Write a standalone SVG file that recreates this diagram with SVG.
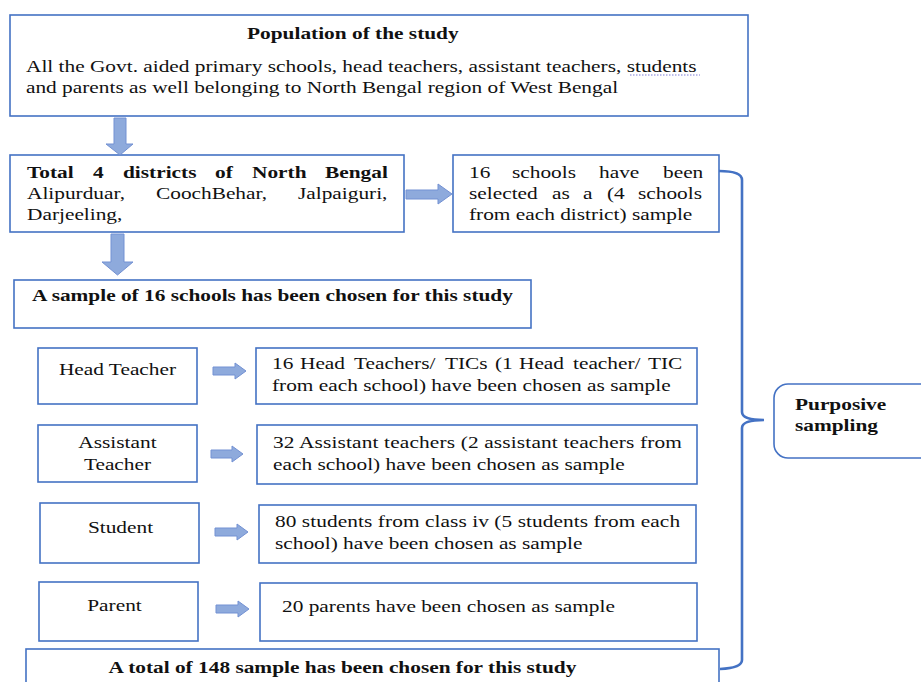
<svg xmlns="http://www.w3.org/2000/svg" width="921" height="682" viewBox="0 0 921 682">
<style>
  .box { fill: #ffffff; stroke: #4472c4; stroke-width: 1.6; }
  .arr { fill: #8eaadc; stroke: #7391d3; stroke-width: 1; }
  .t { font-family: "Liberation Serif", "Times New Roman", serif; font-size: 17px; fill: #111111; transform: scale(1.256, 1); }
  .b { font-weight: bold; }
  .m { text-anchor: middle; }
  .br { fill: none; stroke: #4472c4; stroke-width: 2.6; }
</style>
<rect width="921" height="682" fill="#ffffff"/>

<g id="population">
  <rect class="box" x="10" y="15" width="738" height="101"/>
  <text class="t b" x="196.7" y="39">Population of the study</text>
  <text class="t" x="20.7" y="72">All the Govt. aided primary schools, head teachers, assistant teachers, students</text>
  <text class="t" x="20.7" y="93">and parents as well belonging to North Bengal region of West Bengal</text>
  <line x1="630" y1="75" x2="700" y2="75" stroke="#7b7bd6" stroke-width="1" stroke-dasharray="1.5,1.5"/>
</g>

<g id="districts">
  <rect class="box" x="10" y="155" width="394" height="77"/>
  <text class="t b" y="178"><tspan x="21.5">Total</tspan><tspan x="74.04">4</tspan><tspan x="97.93">districts</tspan><tspan x="171.18">of</tspan><tspan x="200.64">North</tspan><tspan x="258.76">Bengal</tspan></text>
  <text class="t" y="199"><tspan x="21.5">Alipurduar,</tspan><tspan x="124.2">CoochBehar,</tspan><tspan x="237.26">Jalpaiguri,</tspan></text>
  <text class="t" x="21.5" y="220">Darjeeling,</text>
</g>

<g id="schools-selected">
  <rect class="box" x="453" y="155" width="266" height="77"/>
  <text class="t" y="178"><tspan x="373.41">16</tspan><tspan x="407.64">schools</tspan><tspan x="476.91">have</tspan><tspan x="527.87">been</tspan></text>
  <text class="t" y="199"><tspan x="373.41">selected</tspan><tspan x="439.49">as</tspan><tspan x="464.17">a</tspan><tspan x="483.28">(4</tspan><tspan x="507.96">schools</tspan></text>
  <text class="t" x="373.41" y="220">from each district) sample</text>
</g>

<g id="sample-16">
  <rect class="box" x="14" y="280" width="517" height="48"/>
  <text class="t b m" x="216.96" y="301">A sample of 16 schools has been chosen for this study</text>
</g>

<g id="head-teacher">
  <rect class="box" x="38" y="348" width="159" height="56"/>
  <text class="t m" x="93.55" y="375">Head Teacher</text>
</g>
<g id="head-teacher-sample">
  <rect class="box" x="256" y="348" width="441" height="56"/>
  <text class="t" y="369"><tspan x="216.56">16</tspan><tspan x="238.85">Head</tspan><tspan x="281.85">Teachers/</tspan><tspan x="354.3">TICs</tspan><tspan x="394.11">(1</tspan><tspan x="413.22">Head</tspan><tspan x="456.21">teacher/</tspan><tspan x="515.92">TIC</tspan></text>
  <text class="t" x="216.56" y="391">from each school) have been chosen as sample</text>
</g>

<g id="assistant-teacher">
  <rect class="box" x="38" y="425" width="159" height="57"/>
  <text class="t m" x="93.55" y="448">Assistant</text>
  <text class="t m" x="93.55" y="470">Teacher</text>
</g>
<g id="assistant-teacher-sample">
  <rect class="box" x="257" y="425" width="440" height="59"/>
  <text class="t" x="217.36" y="448" textLength="325.6" lengthAdjust="spacing">32 Assistant teachers (2 assistant teachers from</text>
  <text class="t" x="217.36" y="470">each school) have been chosen as sample</text>
</g>

<g id="student">
  <rect class="box" x="40" y="503" width="159" height="60"/>
  <text class="t m" x="95.94" y="533">Student</text>
</g>
<g id="student-sample">
  <rect class="box" x="259" y="505" width="437" height="58"/>
  <text class="t" x="218.95" y="527" textLength="322.5" lengthAdjust="spacing">80 students from class iv (5 students from each</text>
  <text class="t" x="218.95" y="549">school) have been chosen as sample</text>
</g>

<g id="parent">
  <rect class="box" x="39" y="582" width="159" height="59"/>
  <text class="t m" x="91.16" y="611">Parent</text>
</g>
<g id="parent-sample">
  <rect class="box" x="260" y="583" width="437" height="58"/>
  <text class="t" x="224.52" y="612">20 parents have been chosen as sample</text>
</g>

<g id="total-148">
  <rect class="box" x="26" y="649" width="693" height="50"/>
  <text class="t b m" x="272.69" y="673">A total of 148 sample has been chosen for this study</text>
</g>

<g id="purposive-sampling">
  <rect class="box" x="774" y="384" width="162" height="74" rx="14" ry="14"/>
  <text class="t b" x="632.96" y="410">Purposive</text>
  <text class="t b" x="632.96" y="431">sampling</text>
</g>

<g id="connectors">
  <polygon class="arr" points="114,118 126,118 126,144 133,144 120,155 106,144 114,144"/>
  <polygon class="arr" points="111,234 124,234 124,262 133,262 117.5,275 102,262 111,262"/>
  <polygon class="arr" points="406,190 438,190 438,184 452,194 438,204 438,199 406,199"/>
  <polygon class="arr" points="213,367 235,367 235,363 246,371 235,379 235,375 213,375"/>
  <polygon class="arr" points="211,450 232,450 232,446 243,454 232,462 232,458 211,458"/>
  <polygon class="arr" points="215,528 237,528 237,524 248,532 237,540 237,536 215,536"/>
  <polygon class="arr" points="216,605 238,605 238,601 249,609 238,617 238,613 216,613"/>
  <path class="br" d="M719,171 Q742,171 742,180 L742,412 Q742,420 764,420 Q742,420 742,428 L742,660 Q742,668 720,669"/>
</g>
</svg>
